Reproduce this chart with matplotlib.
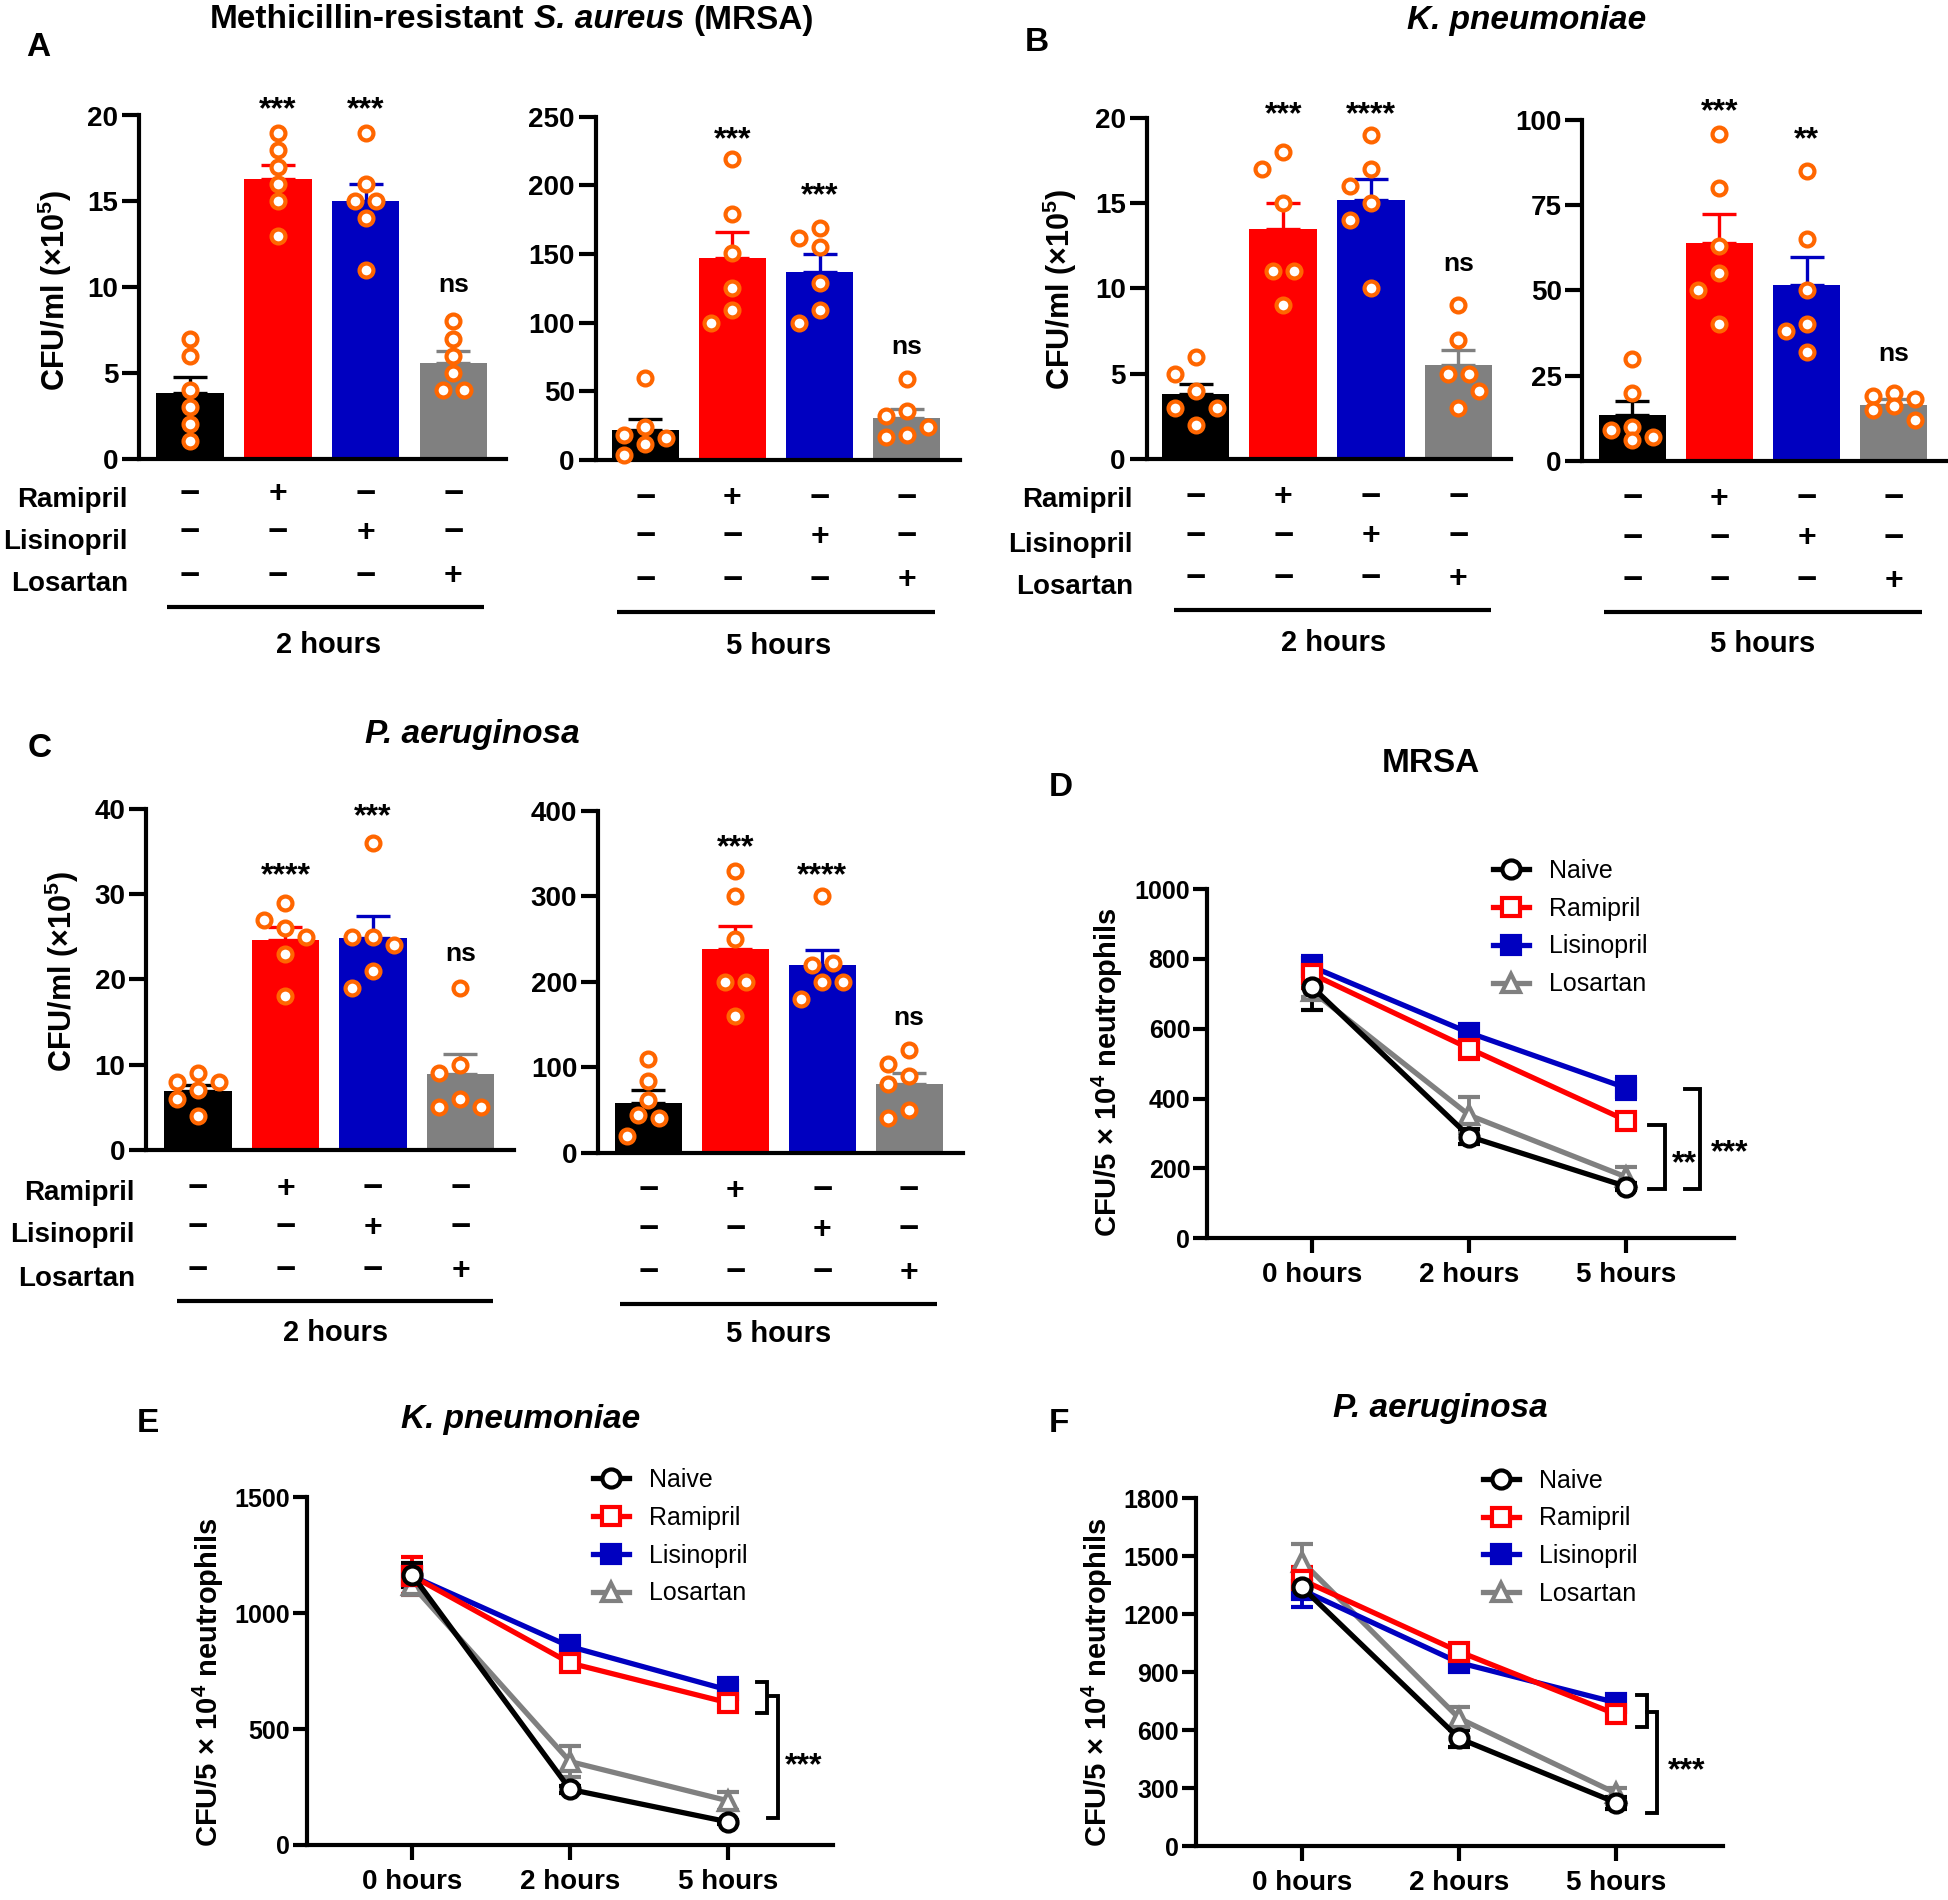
import numpy as np
import matplotlib
matplotlib.use('Agg')
import matplotlib.pyplot as plt
from matplotlib.lines import Line2D
from matplotlib import transforms

plt.rcParams.update({
    'font.family': ['Liberation Sans', 'DejaVu Sans'],
    'font.weight': 'bold',
    'mathtext.fontset': 'custom',
    'mathtext.rm': 'Liberation Sans:bold',
    'mathtext.bf': 'Liberation Sans:bold',
    'mathtext.it': 'Liberation Sans:italic:bold',
    'mathtext.default': 'regular',
    'axes.linewidth': 3,
})

# ---------------------------------------------------------------- data
GROUPS = ['Naive', 'Ramipril', 'Lisinopril', 'Losartan']
DRUG_ROWS = ['Ramipril', 'Lisinopril', 'Losartan']
DRUG_SIGNS = [['−', '+', '−', '−'],
              ['−', '−', '+', '−'],
              ['−', '−', '−', '+']]
TIMES = ['0 hours', '2 hours', '5 hours']
HOUR_GROUPS = ['2 hours', '5 hours']

# Panel A: MRSA, CFU/ml (x10^5)
mrsa_2h_mean = [3.8, 16.3, 15.0, 5.6]
mrsa_2h_sem = [0.95, 0.8, 1.0, 0.7]
mrsa_2h_points = [[7, 6, 4, 3, 2, 1], [19, 18, 17, 16, 15, 13],
                  [19, 16, 15, 15, 14, 11], [8, 7, 6, 5, 4, 4]]
mrsa_2h_sig = ['', '***', '***', 'ns']

mrsa_5h_mean = [21.5, 147, 137, 30.5]
mrsa_5h_sem = [8.7, 19, 13, 7]
mrsa_5h_points = [[60, 18, 12, 4, 24, 16], [219, 179, 151, 125, 109, 100],
                  [162, 169, 155, 129, 109, 100], [59, 36, 32, 24, 17, 18]]
mrsa_5h_sig = ['', '***', '***', 'ns']

# Panel B: K. pneumoniae
kp_2h_mean = [3.8, 13.5, 15.15, 5.5]
kp_2h_sem = [0.62, 1.5, 1.25, 0.9]
kp_2h_points = [[6, 5, 4, 3, 3, 2], [18, 17, 15, 11, 11, 9],
                [19, 17, 16, 15, 14, 10], [9, 7, 5, 5, 4, 3]]
kp_2h_sig = ['', '***', '****', 'ns']

kp_5h_mean = [13.3, 63.8, 51.5, 16.5]
kp_5h_sem = [4.1, 8.7, 8.3, 1.7]
kp_5h_points = [[30, 20, 10, 6, 9, 7], [96, 80, 63, 55, 50, 40],
                [85, 65, 50, 40, 38, 32], [18, 20, 19, 12, 16, 15]]
kp_5h_sig = ['', '***', '**', 'ns']

# Panel C: P. aeruginosa
pa_2h_mean = [6.9, 24.6, 24.9, 8.9]
pa_2h_sem = [0.75, 1.5, 2.5, 2.3]
pa_2h_points = [[8, 8, 9, 6, 7, 4], [29, 27, 26, 25, 23, 18],
                [36, 25, 25, 24, 21, 19], [19, 10, 9, 6, 5, 5]]
pa_2h_sig = ['', '****', '***', 'ns']

pa_5h_mean = [58.5, 238.6, 219, 80.5]
pa_5h_sem = [14.8, 27, 18, 12.7]
pa_5h_points = [[110, 84, 62, 44, 40, 20], [330, 300, 250, 200, 200, 160],
                [300, 222, 219, 200, 200, 180], [120, 104, 90, 80, 50, 40]]
pa_5h_sig = ['', '***', '****', 'ns']

# Panels D-F: CFU / 5x10^4 neutrophils over time
d_mean = {'Naive': [719, 291, 148], 'Ramipril': [756, 543, 337],
          'Lisinopril': [777, 588, 430], 'Losartan': [707, 352, 175]}
d_sem = {'Naive': [65, 22, 10], 'Ramipril': [40, 30, 12],
         'Lisinopril': [30, 22, 32], 'Losartan': [15, 52, 28]}
e_mean = {'Naive': [1165, 240, 100], 'Ramipril': [1161, 785, 614],
          'Lisinopril': [1160, 856, 669], 'Losartan': [1120, 360, 191]}
e_sem = {'Naive': [50, 15, 10], 'Ramipril': [80, 30, 20],
         'Lisinopril': [40, 45, 50], 'Losartan': [40, 67, 39]}
f_mean = {'Naive': [1339, 557, 224], 'Ramipril': [1377, 1006, 682],
          'Lisinopril': [1325, 949, 742], 'Losartan': [1472, 661, 273]}
f_sem = {'Naive': [30, 45, 30], 'Ramipril': [65, 30, 15],
         'Lisinopril': [90, 20, 20], 'Losartan': [90, 57, 25]}

# ---------------------------------------------------------------- style
BAR_COLORS = ['#000000', '#FF0000', '#0000C0', '#808080']
PT_COLOR = '#FF6600'
LINE_STYLE = {
    'Naive': dict(color='#000000', marker='o', mfc='white'),
    'Ramipril': dict(color='#FF0000', marker='s', mfc='white'),
    'Lisinopril': dict(color='#0000C0', marker='s', mfc='#0000C0'),
    'Losartan': dict(color='#808080', marker='^', mfc='white'),
}
DRAW_ORDER = ['Losartan', 'Lisinopril', 'Ramipril', 'Naive']

W, H = 1949, 1900
fig = plt.figure(figsize=(W / 100, H / 100), dpi=100)


def px_rect(x0, x1, ytop, ybot):
    return [x0 / W, 1 - ybot / H, (x1 - x0) / W, (ybot - ytop) / H]


def fx(x):
    return x / W


def fy(y):
    return 1 - y / H


def swarm_x(ax, xc, vals, diam=18.0, step=21.0):
    p0 = ax.transData.transform((0, 0))
    p1 = ax.transData.transform((1, 1))
    sx, sy = p1[0] - p0[0], p1[1] - p0[1]
    vals = np.asarray(vals, float)
    ys = vals * sy
    order = np.argsort(-vals, kind='stable')
    xo = np.full(len(vals), np.nan)
    cands = [0, -1, 1]

    def mind(i, x, skip=()):
        d = np.inf
        for j in range(len(vals)):
            if j == i or j in skip or np.isnan(xo[j]):
                continue
            d = min(d, np.hypot(x - xo[j], ys[i] - ys[j]))
        return d

    for i in order:
        best, bestd = 0, -1
        for c in cands:
            d = mind(i, c * step)
            if d >= diam * 0.95:
                best = c
                break
            if d > bestd + 1.0:
                best, bestd = c, d
        xo[i] = best * step
    for i in range(len(vals)):
        for j in range(len(vals)):
            if i != j and xo[i] == 0 and xo[j] != 0 and abs(ys[i] - ys[j]) < 0.3 * diam:
                s = np.sign(xo[j])
                old_i, old_j = xo[i], xo[j]
                xo[i], xo[j] = np.nan, np.nan
                if (mind(i, -s * step / 2, skip=(j,)) >= diam * 0.95 and
                        mind(j, s * step / 2, skip=(i,)) >= diam * 0.95):
                    xo[i], xo[j] = -s * step / 2, s * step / 2
                else:
                    xo[i], xo[j] = old_i, old_j
    return xc + xo / sx


def sig_text(ax, x, y, s):
    star = '*' in s
    fs = 23 if star else 19
    ax.annotate(s, (x, y), xytext=(0, -0.25 * fs if star else 0), textcoords='offset points',
                ha='center', va='center', fontsize=fs, annotation_clip=False)


def bar_panel(L, means, sems, points, sigs, hour_label):
    ax = fig.add_axes(px_rect(*L['rect']))
    x = np.arange(len(means))
    ax.set_xlim(*L['xlim'])
    ax.set_ylim(0, L['ymax'])
    ax.bar(x, means, width=0.77, color=BAR_COLORS, zorder=2)
    for i in x:
        ax.errorbar(x[i], means[i], yerr=[[0], [sems[i]]], color=BAR_COLORS[i],
                    capsize=12, elinewidth=2.4, capthick=2.4, zorder=3, clip_on=False)
    for i in x:
        xs = swarm_x(ax, x[i], points[i])
        ax.plot(xs, points[i], linestyle='none', marker='o', ms=10, mew=3,
                mfc='white', mec=PT_COLOR, zorder=4, clip_on=False)
    ax.spines[['top', 'right']].set_visible(False)
    ax.set_xticks([])
    ax.set_yticks(np.arange(0, L['ymax'] + L['ystep'] / 2, L['ystep']))
    ax.tick_params(axis='y', length=12, width=3, labelsize=20, pad=3)
    for i, s in enumerate(sigs):
        if s:
            sig_text(ax, x[i], L['sig_y'][i], s)
    tr = transforms.blended_transform_factory(ax.transData, fig.transFigure)
    for r, row in enumerate(DRUG_SIGNS):
        for i, s in enumerate(row):
            ax.text(x[i], fy(L['sym_y'][r]), s, transform=tr, ha='center', va='center',
                    fontsize=25 if s == '−' else 23, clip_on=False)
    fig.add_artist(Line2D(L['line_x'], [fy(L['line_y'])] * 2, transform=tr,
                          color='black', lw=3, solid_capstyle='butt'))
    fig.text(fx(L['hour_xy'][0]), fy(L['hour_xy'][1]), hour_label,
             ha='center', va='center', fontsize=21)
    return ax


def row_labels(xr, ys):
    for lab, y in zip(DRUG_ROWS, ys):
        fig.text(fx(xr), fy(y), lab, ha='right', va='center', fontsize=20)


def line_panel(L, means, sems):
    ax = fig.add_axes(px_rect(*L['rect']))
    x = np.arange(len(TIMES))
    ax.set_xlim(*L['xlim'])
    ax.set_ylim(0, L['ymax'])
    for g in DRAW_ORDER:
        st = LINE_STYLE[g]
        ax.errorbar(x, means[g], yerr=sems[g], color=st['color'], marker=st['marker'],
                    mfc=st['mfc'], mec=st['color'], ms=13, mew=3, lw=3.8,
                    elinewidth=2.8, capsize=8, capthick=2.8, clip_on=False)
    ax.spines[['top', 'right']].set_visible(False)
    ax.set_xticks(x, TIMES)
    ax.set_yticks(np.arange(0, L['ymax'] + L['ystep'] / 2, L['ystep']))
    ax.tick_params(axis='x', length=11, width=3, labelsize=20, pad=6)
    ax.tick_params(axis='y', length=10, width=3, labelsize=18, pad=2)
    for lab, ytop, ybot, xv, xt, tx, ty in L['brackets']:
        ax.plot([xt, xv, xv, xt], [ytop, ytop, ybot, ybot], color='black', lw=2.8,
                clip_on=False, solid_joinstyle='miter')
        if lab:
            sig_text(ax, tx, ty, lab)
    handles = [Line2D([0], [0], color=LINE_STYLE[g]['color'], marker=LINE_STYLE[g]['marker'],
                      mfc=LINE_STYLE[g]['mfc'], mec=LINE_STYLE[g]['color'], ms=13, mew=3, lw=3.8)
               for g in GROUPS]
    ax.legend(handles, GROUPS, loc='upper left',
              bbox_to_anchor=(fx(L['leg_xy'][0]), fy(L['leg_xy'][1])),
              bbox_transform=fig.transFigure, frameon=False, borderpad=0, borderaxespad=0,
              handlelength=1.45, handletextpad=0.8, labelspacing=0.55,
              prop={'size': 18, 'weight': 'normal'})
    return ax


def rich_title(parts, xc, yc, size):
    """Centre a title made of pieces with different font styles."""
    r = fig.canvas.get_renderer()

    def width(s, style):
        t = fig.text(0, 0, s, fontsize=size, style=style)
        w = t.get_window_extent(renderer=r).width
        t.remove()
        return w

    space = width('M M', 'normal') - width('MM', 'normal')
    widths = [width(s, st) for s, st in parts]
    total = sum(widths) + space * (len(parts) - 1)
    x = xc - total / 2
    for (s, st), w in zip(parts, widths):
        fig.text(fx(x), fy(yc), s, fontsize=size, style=st, ha='left', va='center')
        x += w + space


# ---------------------------------------------------------------- layout (pixels)
LAY = {
    'A2': dict(rect=(139, 506, 115.5, 458.6), xlim=(-0.58, 3.60), ymax=20, ystep=5,
               sig_y=[0, 20.8, 20.8, 10.1], sym_y=(494, 533, 576), line_x=(-0.26, 3.35),
               line_y=607, hour_xy=(329, 645)),
    'A5': dict(rect=(595.5, 960, 116.8, 460), xlim=(-0.57, 3.61), ymax=250, ystep=50,
               sig_y=[0, 239, 198, 82.6], sym_y=(498, 537, 580), line_x=(-0.32, 3.32),
               line_y=612, hour_xy=(779, 646)),
    'B2': dict(rect=(1146.5, 1511, 117.7, 459), xlim=(-0.56, 3.60), ymax=20, ystep=5,
               sig_y=[0, 20.6, 20.6, 11.4], sym_y=(497, 536, 579), line_x=(-0.25, 3.37),
               line_y=610, hour_xy=(1334, 643)),
    'B5': dict(rect=(1582.5, 1946, 119.9, 460.8), xlim=(-0.57, 3.60), ymax=100, ystep=25,
               sig_y=[0, 104.5, 96.5, 31.2], sym_y=(499, 538, 581), line_x=(-0.32, 3.32),
               line_y=612, hour_xy=(1762.6, 644)),
    'C2': dict(rect=(146.4, 513.8, 809.1, 1149.7), xlim=(-0.59, 3.61), ymax=40, ystep=10,
               sig_y=[0, 33, 40, 23], sym_y=(1188.6, 1227.5, 1271), line_x=(-0.24, 3.37),
               line_y=1300.7, hour_xy=(336, 1333)),
    'C5': dict(rect=(598, 963, 810.8, 1152.6), xlim=(-0.58, 3.62), ymax=400, ystep=100,
               sig_y=[0, 365, 333, 157], sym_y=(1190.7, 1229.6, 1273), line_x=(-0.33, 3.32),
               line_y=1304, hour_xy=(779, 1334.5)),
    'D': dict(rect=(1207, 1734, 889, 1238.2), xlim=(-0.671, 2.685), ymax=1000, ystep=200,
              brackets=[('**', 324, 142, 2.243, 2.143, 2.37, 234),
                        ('***', 427, 142, 2.471, 2.371, 2.66, 265)],
              leg_xy=(1493, 859)),
    'E': dict(rect=(307, 833, 1497.3, 1845), xlim=(-0.667, 2.667), ymax=1500, ystep=500,
              brackets=[('', 705, 568, 2.25, 2.188, 0, 0),
                        ('***', 643, 115, 2.318, 2.256, 2.48, 374)],
              leg_xy=(593, 1468)),
    'F': dict(rect=(1195.8, 1723, 1498.3, 1846), xlim=(-0.677, 2.68), ymax=1800, ystep=300,
              brackets=[('', 782, 618, 2.194, 2.131, 0, 0),
                        ('***', 692, 169, 2.257, 2.194, 2.45, 428)],
              leg_xy=(1483, 1468.5)),
}

# ---------------------------------------------------------------- bar panels
bar_panel(LAY['A2'], mrsa_2h_mean, mrsa_2h_sem, mrsa_2h_points, mrsa_2h_sig, HOUR_GROUPS[0])
bar_panel(LAY['A5'], mrsa_5h_mean, mrsa_5h_sem, mrsa_5h_points, mrsa_5h_sig, HOUR_GROUPS[1])
bar_panel(LAY['B2'], kp_2h_mean, kp_2h_sem, kp_2h_points, kp_2h_sig, HOUR_GROUPS[0])
bar_panel(LAY['B5'], kp_5h_mean, kp_5h_sem, kp_5h_points, kp_5h_sig, HOUR_GROUPS[1])
bar_panel(LAY['C2'], pa_2h_mean, pa_2h_sem, pa_2h_points, pa_2h_sig, HOUR_GROUPS[0])
bar_panel(LAY['C5'], pa_5h_mean, pa_5h_sem, pa_5h_points, pa_5h_sig, HOUR_GROUPS[1])
row_labels(128, (500, 542, 584))
row_labels(1133, (500, 545, 587))
row_labels(135, (1192.8, 1235, 1278.7))

# ---------------------------------------------------------------- line panels
line_panel(LAY['D'], d_mean, d_sem)
line_panel(LAY['E'], e_mean, e_sem)
line_panel(LAY['F'], f_mean, f_sem)

# ---------------------------------------------------------------- titles / labels
rich_title([('Methicillin-resistant', 'normal'), ('S. aureus', 'italic'), ('(MRSA)', 'normal')],
           512, 20, 24)
fig.text(fx(1526.6), fy(21), 'K. pneumoniae', ha='center', va='center', fontsize=24, style='italic')
fig.text(fx(472), fy(734.7), 'P. aeruginosa', ha='center', va='center', fontsize=24, style='italic')
fig.text(fx(1431), fy(763.3), 'MRSA', ha='center', va='center', fontsize=24)
fig.text(fx(521), fy(1419.3), 'K. pneumoniae', ha='center', va='center', fontsize=24, style='italic')
fig.text(fx(1440), fy(1408.3), 'P. aeruginosa', ha='center', va='center', fontsize=24, style='italic')

for lab, xl, yc in [('A', 26, 48), ('B', 1025, 42.7), ('C', 28, 748.6),
                    ('D', 1049, 788), ('E', 136.5, 1423.3), ('F', 1049, 1423)]:
    fig.text(fx(xl), fy(yc), lab, ha='left', va='center', fontsize=24)

ylab_bar = r'CFU/ml (×10$^{5}$)'
ylab_line = r'CFU/5 × 10$^{4}$ neutrophils'
for xc, yc in [(55, 291), (1060, 290), (61.6, 971.8)]:
    fig.text(fx(xc), fy(yc), ylab_bar, rotation=90, ha='center', va='center', fontsize=22)
for xc, yc in [(1107.4, 1072), (208, 1681.7), (1097, 1681.7)]:
    fig.text(fx(xc), fy(yc), ylab_line, rotation=90, ha='center', va='center', fontsize=21)

fig.savefig('out.png', dpi=100, facecolor='white')
